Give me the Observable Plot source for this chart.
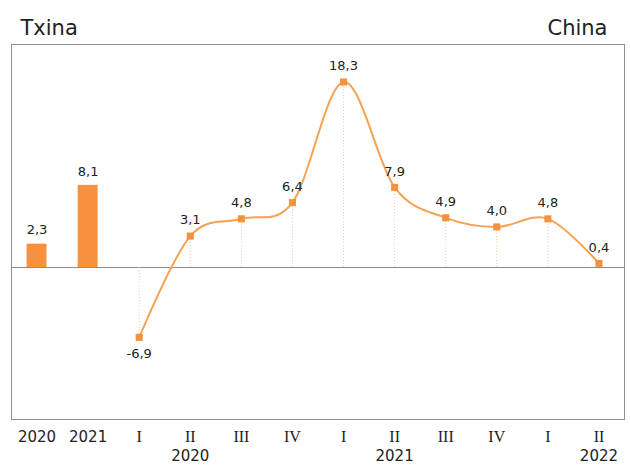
<!DOCTYPE html>
<html>
<head>
<meta charset="utf-8">
<script src="https://cdn.jsdelivr.net/npm/d3@7"></script>
<script src="https://cdn.jsdelivr.net/npm/@observablehq/plot@0.6"></script>
<style>
  html, body { margin: 0; padding: 0; background: #fff; }
</style>
</head>
<body>
<div id="chart"></div>
<script>
// Annual growth (bars) and quarterly growth (smoothed line), in %
const categories = ["2020", "2021", "I", "II", "III", "IV", "I", "II", "III", "IV", "I", "II"];
const yearLabels = ["", "", "", "2020", "", "", "", "2021", "", "", "", "2022"];
const annualValues = [2.3, 8.1];
const quarterValues = [-6.9, 3.1, 4.8, 6.4, 18.3, 7.9, 4.9, 4.0, 4.8, 0.4];
const titleLeft = "Txina";
const titleRight = "China";

const annual = annualValues.map((v, i) => ({i, v}));
const quarters = quarterValues.map((v, k) => ({i: k + 2, v}));
const ticks = categories.map((c, i) => ({i, c, year: yearLabels[i], roman: i >= 2}));

const fmt = v => v.toFixed(1).replace(".", ",");
const orange = "#f7913d";
const lineOrange = "#f5a255";
const half = 0.195;

const chart = Plot.plot({
  width: 630,
  height: 470,
  marginTop: 44,
  marginBottom: 51,
  marginLeft: 11,
  marginRight: 6,
  style: {fontFamily: "DejaVu Sans, Verdana, sans-serif", background: "#fff", color: "#222"},
  x: {type: "linear", domain: [-0.5, 11.5], axis: null},
  y: {domain: [-15, 22], axis: null},
  marks: [
    Plot.frame({stroke: "#8f8f8f"}),
    Plot.ruleY([0], {stroke: "#8a8a8a", strokeWidth: 1}),
    // annual bars
    Plot.rectY(annual, {x1: d => d.i - half, x2: d => d.i + half, y1: 0, y2: "v", fill: orange}),
    // dotted drop lines for the quarters
    Plot.ruleX(quarters, {x: "i", y1: 0, y2: "v", stroke: "#f6c79c", strokeWidth: 1, strokeDasharray: "1,2"}),
    Plot.line(quarters, {x: "i", y: "v", curve: "cardinal", stroke: lineOrange, strokeWidth: 2}),
    Plot.dot(quarters, {x: "i", y: "v", symbol: "square", r: 4, fill: orange, stroke: "none"}),
    // value labels
    Plot.text(annual, {x: "i", y: "v", text: d => fmt(d.v), dy: -14, fontSize: 13, fill: "#222"}),
    Plot.text(quarters, {x: "i", y: "v", text: d => fmt(d.v), fontSize: 13, fill: "#222",
      filter: d => d.v >= 0, dy: -16}),
    Plot.text(quarters, {x: "i", y: "v", text: d => fmt(d.v), fontSize: 13, fill: "#222",
      filter: d => d.v < 0, dy: 16}),
    // category labels
    Plot.text(ticks, {filter: d => !d.roman, x: "i", text: "c", frameAnchor: "bottom", dy: 22,
      fontSize: 15, fill: "#222"}),
    Plot.text(ticks, {filter: d => d.roman, x: "i", text: "c", frameAnchor: "bottom", dy: 22,
      fontSize: 16, fill: "#222", fontFamily: "Liberation Serif, Times New Roman, serif"}),
    Plot.text(ticks, {filter: d => d.year, x: "i", text: "year", frameAnchor: "bottom", dy: 41,
      fontSize: 15, fill: "#222"}),
    // titles
    Plot.text([titleLeft], {frameAnchor: "top-left", dx: 9, dy: -24, textAnchor: "start",
      fontSize: 21, fill: "#222"}),
    Plot.text([titleRight], {frameAnchor: "top-right", dx: -17, dy: -24, textAnchor: "end",
      fontSize: 21, fill: "#222"})
  ]
});
document.getElementById("chart").appendChild(chart);
</script>
</body>
</html>
